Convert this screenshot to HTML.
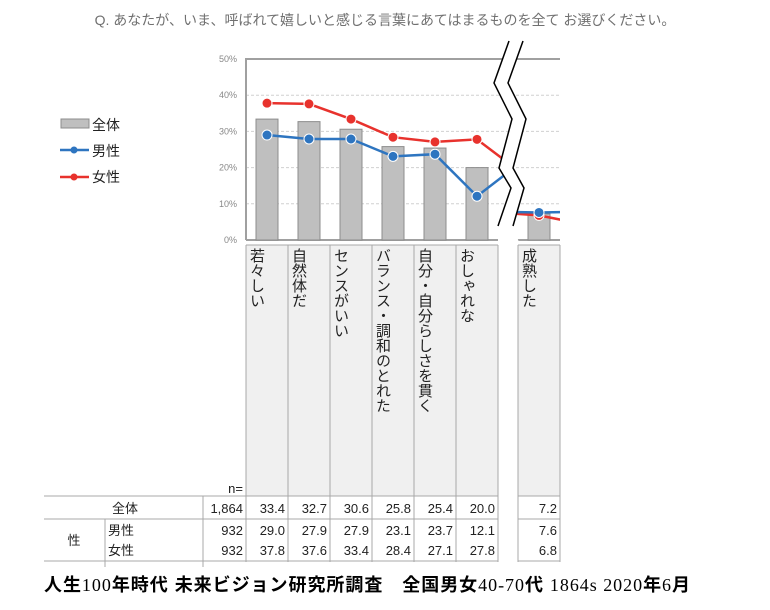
<!DOCTYPE html>
<html><head><meta charset="utf-8"><style>
body{margin:0;background:#fff;width:770px;height:610px;overflow:hidden;font-family:"Liberation Sans","Noto Sans CJK JP",sans-serif}
svg text{font-family:"Liberation Sans","Noto Sans CJK JP",sans-serif}
.vl{writing-mode:vertical-rl;font-size:15px;color:#222;position:absolute;top:248px;line-height:16px}
</style></head><body>
<svg id="c" width="770" height="610" style="position:absolute;left:0;top:0">
<text x="385" y="25" text-anchor="middle" font-size="14" fill="#707070">Q. あなたが、いま、呼ばれて嬉しいと感じる言葉にあてはまるものを全て お選びください。</text>
<g id="plot"></g>
<g id="tbl"></g>
<text x="44" y="591" font-size="18" font-weight="bold" fill="#000" textLength="646" lengthAdjust="spacing">人生<tspan font-family="Liberation Serif" font-weight="normal">100</tspan>年時代 未来ビジョン研究所調査　全国男女<tspan font-family="Liberation Serif" font-weight="normal">40-70</tspan>代 <tspan font-family="Liberation Serif" font-weight="normal">1864s  2020</tspan>年<tspan font-family="Liberation Serif" font-weight="normal">6</tspan>月</text>
</svg>
<div id="labels"></div>
<script>
const categories=["若々しい","自然体だ","センスがいい","バランス・調和のとれた","自分・自分らしさを貫く","おしゃれな","(hidden-a)","(hidden-b)","成熟した","(next)"];
const totalVals=[33.4,32.7,30.6,25.8,25.4,20.0,21,8,7.2,6];
const maleVals=[29.0,27.9,27.9,23.1,23.7,12.1,21,7.8,7.6,7.8];
const femaleVals=[37.8,37.6,33.4,28.4,27.1,27.8,19,7.6,6.8,4.5];
const nVals=["1,864","932","932"];
const yTicks=[0,10,20,30,40,50];
const tableTotal=["33.4","32.7","30.6","25.8","25.4","20.0","7.2"];
const tableMale=["29.0","27.9","27.9","23.1","23.7","12.1","7.6"];
const tableFemale=["37.8","37.6","33.4","28.4","27.1","27.8","6.8"];
const NS="http://www.w3.org/2000/svg";
function mk(t,a,p){const e=document.createElementNS(NS,t);for(const k in a)e.setAttribute(k,a[k]);p.appendChild(e);return e;}
function y(v){return 240-v*3.62;}
function xc(i){return i<7?267+i*42:497+(i-7)*42;}
const plot=document.getElementById('plot');
const defs=mk('defs',{},plot);
const cpl=mk('clipPath',{id:'pl'},defs);mk('rect',{x:246,y:55,width:259,height:186},cpl);
const cpr=mk('clipPath',{id:'pr'},defs);mk('rect',{x:512,y:55,width:48,height:186},cpr);
yTicks.forEach(t=>{
 if(t>0&&t<50){const g=mk('line',{x1:246,x2:560,y1:y(t),y2:y(t),stroke:'#d0d0d0','stroke-dasharray':'3,2'},plot);
 }
 const tx=mk('text',{x:237,y:y(t)+3,'text-anchor':'end','font-size':9,fill:'#888'},plot);tx.textContent=t+'%';
 
});
const frame=mk('path',{d:'M246,240 V59 H560 M246,240 H560',fill:'none',stroke:'#a0a0a0','stroke-width':2},plot);

const gl=mk('g',{'clip-path':'url(#pl)'},plot);
const gr=mk('g',{'clip-path':'url(#pr)'},plot);
function grp(i){return i<7?gl:gr;}
totalVals.forEach((v,i)=>{const b=mk('rect',{x:xc(i)-11,y:y(v),width:22,height:240-y(v),fill:'#bfbfbf',stroke:'#8c8c8c'},grp(i));
 });
function series(vals,col,name){
 [[0,7],[7,10]].forEach(([a,b])=>{
 const pts=vals.slice(a,b).map((v,k)=>xc(a+k)+','+y(v)).join(' ');
 const l=mk('polyline',{points:pts,fill:'none',stroke:col,'stroke-width':2.5},grp(a));
 });
 vals.forEach((v,i)=>{const c=mk('circle',{cx:xc(i),cy:y(v),r:5,fill:col,stroke:'#fff','stroke-width':1},grp(i));
 });
}
series(femaleVals,'#e8322d','female');
series(maleVals,'#2e75c0','male');
const br=mk('polygon',{points:'509,41 494,83 512,119 499,168 511,188 498,226 498,245 520,245 513,226 524,188 513,168 526,119 508,83 523,41',fill:'#fff'},plot);

mk('polyline',{points:'509,41 494,83 512,119 499,168 511,188 498,226',fill:'none',stroke:'#000','stroke-width':1.5},plot);
mk('polyline',{points:'523,41 508,83 526,119 513,168 524,188 513,226',fill:'none',stroke:'#000','stroke-width':1.5},plot);
const lg=mk('g',{},plot);
mk('rect',{x:61,y:119,width:28,height:9,fill:'#bfbfbf',stroke:'#8c8c8c'},lg);
[['全体',127],['男性',153],['女性',179]].forEach((a,i)=>{const t=mk('text',{x:92,y:a[1]+3,'font-size':14,fill:'#222'},lg);t.textContent=a[0];
 });
[['#2e75c0',150],['#e8322d',177]].forEach(a=>{mk('line',{x1:60,x2:89,y1:a[1],y2:a[1],stroke:a[0],'stroke-width':2.5},lg);mk('circle',{cx:74,cy:a[1],r:3.5,fill:a[0]},lg);});
const tb=document.getElementById('tbl');
const cols=[246,288,330,372,414,456,498];
cols.slice(0,6).forEach(x=>mk('rect',{x:x,y:245,width:42,height:251,fill:'#f0f0f0'},tb));
mk('rect',{x:518,y:245,width:42,height:251,fill:'#f0f0f0'},tb);
const lc='#a8a8a8';
cols.forEach(x=>mk('line',{x1:x,x2:x,y1:245,y2:562,stroke:lc},tb));
[518,560].forEach(x=>mk('line',{x1:x,x2:x,y1:245,y2:562,stroke:lc},tb));
mk('line',{x1:246,x2:498,y1:245,y2:245,stroke:lc},tb);mk('line',{x1:518,x2:560,y1:245,y2:245,stroke:lc},tb);
[496,519,561].forEach(yy=>{mk('line',{x1:44,x2:498,y1:yy,y2:yy,stroke:lc},tb);mk('line',{x1:518,x2:560,y1:yy,y2:yy,stroke:lc},tb);});
mk('line',{x1:105,x2:105,y1:519,y2:567,stroke:lc},tb);
mk('line',{x1:203,x2:203,y1:496,y2:567,stroke:lc},tb);
function tx(s,x,yy,anc,name){const t=mk('text',{x:x,y:yy,'text-anchor':anc,'font-size':13,fill:'#222'},tb);t.textContent=s;
 }
tx('n=',243,493,'end','n-label');
tx('全体',125,513,'middle','row-total');tx('男性',108,535,'start','row-male');tx('女性',108,555,'start','row-female');tx('性',74,545,'middle','row-group-sex');
[513,535,555].forEach((yy,r)=>{tx(nVals[r],243,yy,'end','n-value');
 const arr=[tableTotal,tableMale,tableFemale][r];
 arr.forEach((v,i)=>tx(v,i<6?cols[i+1]-3:557,yy,'end','cell-value'));});
const L=document.getElementById('labels');
[0,1,2,3,4,5,8].forEach(i=>{const d=document.createElement('div');d.className='vl';d.textContent=categories[i];
 d.style.left=(xc(i)-19)+'px';
 
 
 L.appendChild(d);});
</script>
</body></html>
